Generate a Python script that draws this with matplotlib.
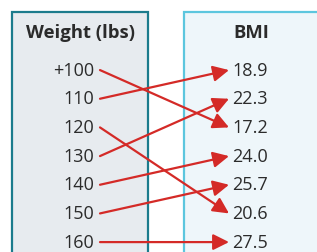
import matplotlib
matplotlib.use("Agg")
import matplotlib.pyplot as plt
from matplotlib.patches import Rectangle, FancyArrowPatch

weights = ["+100", "110", "120", "130", "140", "150", "160"]
bmis = ["18.9", "22.3", "17.2", "24.0", "25.7", "20.6", "27.5"]
# mapping: weight row index -> bmi row index
mapping = [2, 0, 5, 1, 3, 4, 6]
left_title = "Weight (lbs)"
right_title = "BMI"

W, H = 317, 253
fig = plt.figure(figsize=(W / 100, H / 100), dpi=100)
ax = fig.add_axes([0, 0, 1, 1])
y0, dy = 70.5, 28.67
ax.set_xlim(0, W)
ax.set_ylim((H - y0) / dy, -y0 / dy)
ax.axis("off")

def row(py):
    return (py - y0) / dy

top = row(13)
bottom = row(H + 10)
# left box
ax.add_patch(Rectangle((12, top), 136, bottom - top, facecolor="#e7ebef",
                       edgecolor="#1b7b8c", linewidth=1.6, zorder=1))
# right box
ax.add_patch(Rectangle((184, top), 150, bottom - top, facecolor="#eef6fa",
                       edgecolor="#5cc6de", linewidth=1.6, zorder=1))

font = "Open Sans"
tc = "#2b2b2b"
ax.text(80, row(32.5), left_title, ha="center", va="center", fontsize=13.3,
        fontweight="bold", color=tc, family=font)
ax.text(251, row(32.5), right_title, ha="center", va="center", fontsize=13.3,
        fontweight="bold", color=tc, family=font)

for i, w in enumerate(weights):
    ax.text(94, i, w, ha="right", va="center", fontsize=13, color=tc, family=font)
for i, b in enumerate(bmis):
    ax.text(232, i, b, ha="left", va="center", fontsize=13, color=tc, family=font)

for i, j in enumerate(mapping):
    arr = FancyArrowPatch((100, i + 0.02), (229, j + 0.02), arrowstyle="-|>,head_length=6,head_width=3",
                          color="#d42a27", linewidth=1.6, shrinkA=0, shrinkB=0,
                          mutation_scale=1.6, zorder=3)
    ax.add_patch(arr)

fig.savefig("out.png", dpi=100)
